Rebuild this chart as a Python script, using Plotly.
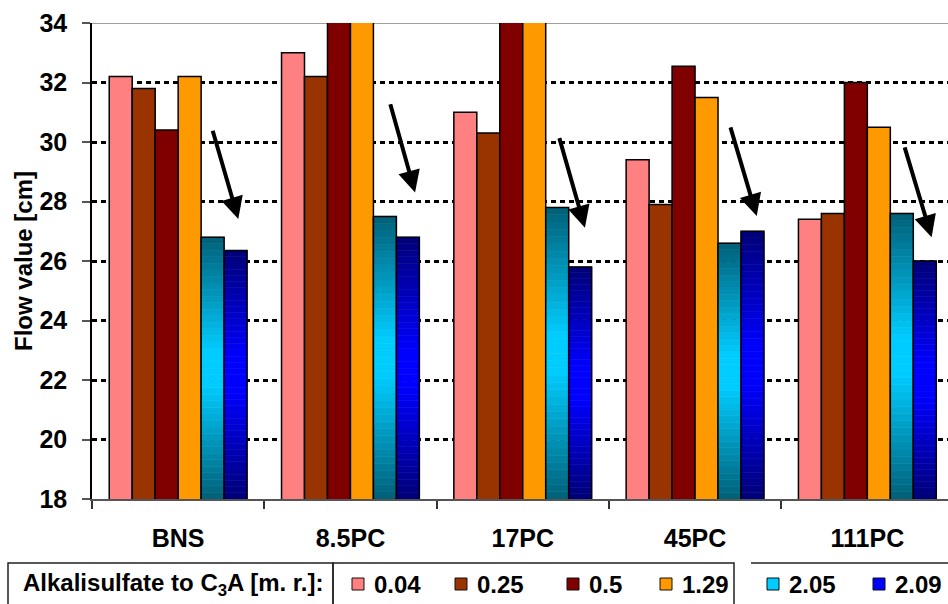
import plotly.graph_objects as go

# ---------------- data ----------------
categories = ["BNS", "8.5PC", "17PC", "45PC", "111PC"]
series_names = ["0.04", "0.25", "0.5", "1.29", "2.05", "2.09"]
v_004 = [32.2, 33.0, 31.0, 29.4, 27.4]
v_025 = [31.8, 32.2, 30.3, 27.9, 27.6]
v_050 = [30.4, 35.0, 35.0, 32.55, 32.0]
v_129 = [32.2, 35.0, 35.0, 31.5, 30.5]
v_205 = [26.8, 27.5, 27.8, 26.6, 27.6]
v_209 = [26.35, 26.8, 25.8, 27.0, 26.0]
series_values = [v_004, v_025, v_050, v_129, v_205, v_209]

# arrows (tail -> tip) in data coordinates (category index, value)
arrow_tail_x = [0.198, 1.229, 2.210, 3.203, 4.214]
arrow_tail_y = [30.43, 31.32, 30.18, 30.54, 29.87]
arrow_tip_x = [0.349, 1.375, 2.361, 3.358, 4.373]
arrow_tip_y = [27.41, 28.30, 27.12, 27.51, 26.80]

legend_title = "Alkalisulfate to C<sub>3</sub>A [m. r.]:"
y_title = "Flow value [cm]"
y_min, y_max = 18, 34

# ---------------- styles ----------------
FONT = "Liberation Sans, Arial, sans-serif"
solid_colors = ["#FF8080", "#993300", "#800000", "#FF9900"]
grad_edges = {"2.05": (0, 0x60, 0x78), "2.09": (0, 0, 0x78)}
grad_mids = {"2.05": (0, 0xCC, 0xFF), "2.09": (0, 0, 0xFF)}
legend_colors = ["#FF8080", "#993300", "#800000", "#FF9900", "#00CCFF", "#0000FF"]

W, H = 948, 604
ML, MT, MB = 92, 23, 105
PW, PH = W - ML, H - MT - MB


def px2paper(px, py):
    return (px - ML) / PW, (H - MB - py) / PH


fig = go.Figure()

# solid series
for i in range(4):
    fig.add_trace(go.Bar(
        x=categories, y=series_values[i], name=series_names[i],
        offsetgroup=f"s{i}", marker=dict(color=solid_colors[i],
                                         line=dict(color="black", width=1.5)),
        showlegend=False))

# gradient series (built as thin stacked slices from the values)
N = 40
for i in (4, 5):
    name = series_names[i]
    vals = series_values[i]
    e, m = grad_edges[name], grad_mids[name]
    for k in range(N):
        t = (k + 0.5) / N
        w = 1 - abs(2 * t - 1)
        w = min(1.0, w * 1.15)
        c = tuple(int(e[j] + (m[j] - e[j]) * w) for j in range(3))
        col = "rgb(%d,%d,%d)" % c
        fig.add_trace(go.Bar(
            x=categories,
            base=[y_min + (v - y_min) * k / N for v in vals],
            y=[(v - y_min) / N for v in vals],
            offsetgroup=f"s{i}", marker=dict(color=col, line=dict(color=col, width=0.6)),
            showlegend=False, hoverinfo="skip"))
    fig.add_trace(go.Bar(
        x=categories, y=vals, name=name, offsetgroup=f"s{i}",
        marker=dict(color="rgba(0,0,0,0)", line=dict(color="black", width=1.5)),
        showlegend=False))

# arrows
for tx, ty, hx, hy in zip(arrow_tail_x, arrow_tail_y, arrow_tip_x, arrow_tip_y):
    fig.add_annotation(x=hx, y=hy, ax=tx, ay=ty, xref="x", yref="y",
                       axref="x", ayref="y", text="", showarrow=True,
                       arrowhead=2, arrowsize=1.1, arrowwidth=4, arrowcolor="black",
                       standoff=0)

shapes = []
# top border line
shapes.append(dict(type="line", xref="paper", yref="y", x0=0, x1=1, y0=y_max, y1=y_max,
                   line=dict(color="#A0A0A0", width=2), layer="below"))

# legend boxes
def rect(x0, y0, x1, y1):
    a0, b0 = px2paper(x0, y0)
    a1, b1 = px2paper(x1, y1)
    return dict(type="rect", xref="paper", yref="paper", x0=a0, y0=b0, x1=a1, y1=b1,
                line=dict(color="#222", width=1.5), fillcolor="rgba(0,0,0,0)")

shapes.append(rect(8, 563, 333, 640))
shapes.append(rect(333, 563, 734, 640))
a0, b0 = px2paper(751, 563)
a1, _ = px2paper(960, 563)
shapes.append(dict(type="line", xref="paper", yref="paper", x0=a0, x1=a1, y0=b0, y1=b0,
                   line=dict(color="#222", width=1.5)))

sym_x = [352, 455, 567, 660, 767, 873]
sym_y = 584
for sx, col, nm in zip(sym_x, legend_colors, series_names):
    s = rect(sx, sym_y - 6, sx + 12, sym_y + 6)
    s["fillcolor"] = col
    s["line"] = dict(color="#111", width=1)
    shapes.append(s)
    ax_, ay_ = px2paper(sx + 20, sym_y)
    fig.add_annotation(x=ax_, y=ay_, xref="paper", yref="paper", text=nm,
                       showarrow=False, xanchor="left", yanchor="middle",
                       font=dict(family=FONT, size=24, color="black", weight="bold"))

lx, ly = px2paper(21, sym_y)
fig.add_annotation(x=lx, y=ly, xref="paper", yref="paper", text=legend_title,
                   showarrow=False, xanchor="left", yanchor="middle",
                   font=dict(family=FONT, size=24, color="black", weight="bold"))

fig.update_layout(
    width=W, height=H,
    margin=dict(l=ML, r=0, t=MT, b=MB, pad=0),
    paper_bgcolor="white", plot_bgcolor="white",
    barmode="group", bargap=0.2, bargroupgap=0,
    shapes=shapes,
    showlegend=False,
    font=dict(family=FONT, color="black"),
)
fig.update_xaxes(
    range=[-0.5, -0.5 + PW / 172.3],
    showgrid=False, ticks="outside", tickson="boundaries", ticklen=8,
    tickcolor="#333", tickwidth=1.5,
    showline=True, linecolor="#555", linewidth=1.5,
    tickfont=dict(family=FONT, size=25, color="black", weight="bold"),
    ticklabelstandoff=16,
)
fig.update_yaxes(
    range=[y_min, y_max], dtick=2, tick0=18,
    showgrid=True, gridcolor="black", gridwidth=2.5, griddash="5px,4px",
    ticks="outside", ticklen=8, tickcolor="#555", tickwidth=1.5,
    showline=True, linecolor="black", linewidth=1.5,
    tickfont=dict(family=FONT, size=25, color="black", weight="bold"),
    ticklabelstandoff=10,
    title=dict(text=y_title, font=dict(family=FONT, size=24, color="black", weight="bold"),
               standoff=0),
    zeroline=False,
)

fig.write_html("out.html")
